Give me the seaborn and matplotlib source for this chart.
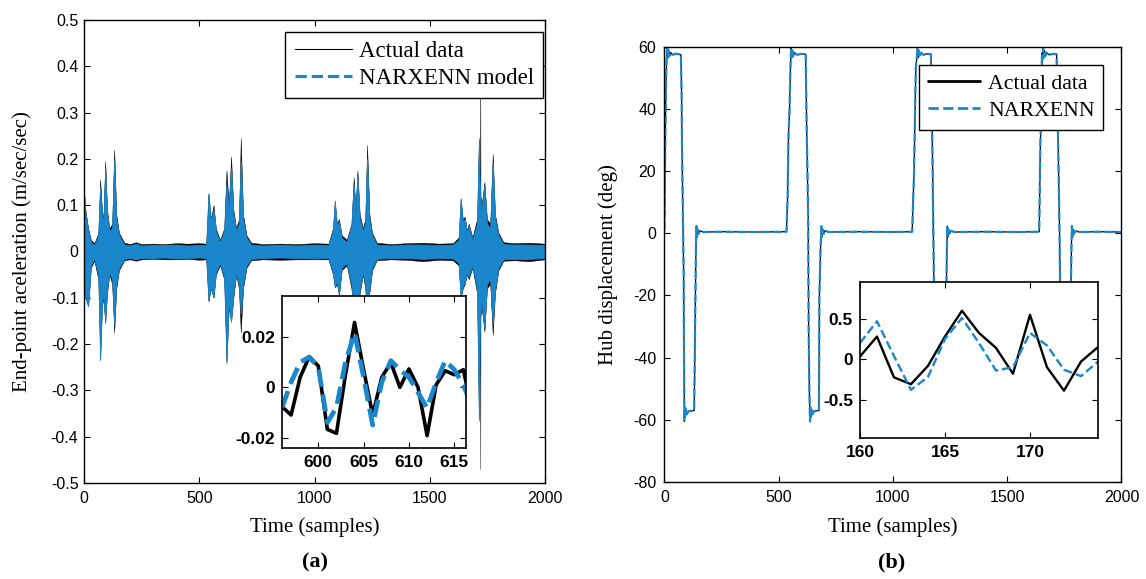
import matplotlib
matplotlib.use('Agg')
import matplotlib.pyplot as plt
import seaborn as sns
import pandas as pd
from matplotlib.ticker import FormatStrFormatter

BLUE = '#1a87cc'

# (a) end-point acceleration: band (knot time, upper / lower extent)
acc_t = [0, 6, 18, 30, 45, 62, 70, 78, 84, 92, 100, 110, 122, 131, 140, 152, 175,
         200, 225, 250, 300, 350, 400, 450, 500, 530,
         540, 550, 562, 572, 590, 608, 618, 628, 638, 648, 660, 672, 680, 690, 705, 725,
         775, 850, 925, 1000, 1060,
         1080, 1088, 1097, 1106, 1118, 1140, 1160, 1170, 1178, 1186, 1196, 1210, 1220, 1228,
         1238, 1250, 1270,
         1330, 1400, 1470, 1540, 1600, 1625,
         1634, 1643, 1652, 1661, 1669, 1685, 1705, 1713, 1718, 1719, 1720, 1725, 1737, 1748,
         1762, 1773, 1783, 1798, 1820,
         1870, 1930, 2000]
acc_hi = [0.130, 0.090, 0.050, 0.025, 0.018, 0.040, 0.155, 0.090, 0.070, 0.195, 0.090, 0.050, 0.060, 0.220, 0.080, 0.040, 0.019,
          0.016, 0.020, 0.016, 0.017, 0.016, 0.018, 0.017, 0.018, 0.017,
          0.125, 0.070, 0.100, 0.050, 0.025, 0.050, 0.175, 0.100, 0.205, 0.090, 0.050, 0.070, 0.245, 0.080, 0.035, 0.019,
          0.016, 0.017, 0.016, 0.018, 0.017,
          0.050, 0.110, 0.060, 0.070, 0.035, 0.025, 0.060, 0.160, 0.090, 0.175, 0.080, 0.050, 0.070, 0.230,
          0.080, 0.040, 0.019,
          0.016, 0.018, 0.019, 0.017, 0.018, 0.030,
          0.115, 0.070, 0.075, 0.045, 0.060, 0.030, 0.070, 0.245, 0.130, 0.400, 0.120, 0.100, 0.150, 0.070,
          0.060, 0.210, 0.080, 0.040, 0.020,
          0.018, 0.019, 0.017]
acc_lo = [-0.060, -0.100, -0.118, -0.035, -0.020, -0.060, -0.235, -0.120, -0.100, -0.155, -0.090, -0.050, -0.070, -0.175, -0.080, -0.040, -0.019,
          -0.017, -0.020, -0.017, -0.016, -0.017, -0.017, -0.016, -0.018, -0.017,
          -0.108, -0.080, -0.100, -0.050, -0.030, -0.060, -0.242, -0.120, -0.152, -0.100, -0.050, -0.080, -0.175, -0.080, -0.035, -0.019,
          -0.017, -0.018, -0.017, -0.017, -0.017,
          -0.050, -0.078, -0.070, -0.095, -0.040, -0.030, -0.080, -0.140, -0.100, -0.150, -0.090, -0.050, -0.080, -0.160,
          -0.090, -0.040, -0.019,
          -0.017, -0.018, -0.021, -0.018, -0.019, -0.030,
          -0.100, -0.080, -0.070, -0.050, -0.060, -0.035, -0.090, -0.360, -0.150, -0.470, -0.140, -0.120, -0.173, -0.080,
          -0.070, -0.180, -0.090, -0.040, -0.020,
          -0.019, -0.021, -0.017]
nn_hi = [0.125, 0.085, 0.045, 0.020, 0.014, 0.035, 0.140, 0.080, 0.060, 0.180, 0.080, 0.045, 0.050, 0.195, 0.070, 0.035, 0.015,
         0.013, 0.017, 0.013, 0.014, 0.014, 0.015, 0.013, 0.014, 0.014,
         0.125, 0.065, 0.090, 0.045, 0.020, 0.045, 0.145, 0.090, 0.180, 0.080, 0.045, 0.060, 0.195, 0.070, 0.030, 0.015,
         0.013, 0.014, 0.013, 0.015, 0.014,
         0.045, 0.108, 0.055, 0.065, 0.030, 0.020, 0.055, 0.145, 0.080, 0.165, 0.070, 0.045, 0.060, 0.200,
         0.070, 0.035, 0.015,
         0.013, 0.015, 0.015, 0.014, 0.015, 0.025,
         0.113, 0.065, 0.070, 0.040, 0.055, 0.025, 0.060, 0.235, 0.120, 0.120, 0.110, 0.090, 0.140, 0.060,
         0.050, 0.190, 0.070, 0.035, 0.016,
         0.015, 0.015, 0.014]
nn_lo = [-0.055, -0.095, -0.118, -0.030, -0.015, -0.050, -0.232, -0.110, -0.090, -0.152, -0.080, -0.045, -0.060, -0.155, -0.070, -0.035, -0.016,
         -0.014, -0.017, -0.014, -0.014, -0.013, -0.015, -0.014, -0.013, -0.014,
         -0.105, -0.075, -0.098, -0.045, -0.025, -0.055, -0.235, -0.110, -0.150, -0.090, -0.045, -0.070, -0.133, -0.070, -0.030, -0.016,
         -0.014, -0.013, -0.014, -0.015, -0.014,
         -0.045, -0.076, -0.065, -0.090, -0.035, -0.025, -0.070, -0.130, -0.090, -0.140, -0.080, -0.045, -0.070, -0.140,
         -0.080, -0.035, -0.016,
         -0.014, -0.014, -0.016, -0.014, -0.015, -0.025,
         -0.098, -0.075, -0.065, -0.045, -0.055, -0.030, -0.080, -0.365, -0.140, -0.140, -0.130, -0.110, -0.165, -0.070,
         -0.060, -0.155, -0.080, -0.035, -0.017,
         -0.016, -0.016, -0.014]

# (a) inset, samples 596..617
ins_a_t = list(range(596, 618))
ins_a_act = [-0.0077, -0.011, 0.004, 0.0122, 0.0085, -0.0167, -0.0183, 0.005, 0.0258, 0.007, -0.011,
             0.004, 0.0098, 0.0, 0.0073, 0.0, -0.0192, 0.001, 0.0066, 0.005, 0.007, -0.010]
ins_a_nn = [-0.008, 0.002, 0.010, 0.012, 0.008, -0.014, -0.008, 0.010, 0.0216, 0.004, -0.015,
            0.002, 0.0106, 0.007, 0.004, -0.002, -0.0082, 0.002, 0.0106, 0.007, 0.001, -0.008]

# (b) hub displacement, corner points of the trace
hub_t = [0, 3, 6, 9, 12, 15, 18, 22, 27, 35, 50, 72, 75, 77, 80, 84, 86, 87, 89, 91, 94, 98, 105, 130,
         132, 134, 137, 139, 140, 142, 145, 149, 155, 170, 250, 400, 534,
         539, 543, 547, 551, 554, 557, 560, 564, 570, 580, 600, 618, 622, 629, 631, 634, 637, 639, 641,
         644, 648, 655, 676, 678, 683, 686, 687, 689, 692, 696, 702, 720, 850, 1000, 1084,
         1092, 1095, 1100, 1104, 1107, 1110, 1113, 1117, 1123, 1133, 1150, 1166, 1171, 1175, 1179, 1183,
         1186, 1188, 1190, 1193, 1197, 1204, 1230, 1234, 1237, 1238, 1240, 1243, 1247, 1253, 1270, 1400,
         1550, 1640,
         1645, 1649, 1652, 1654, 1657, 1660, 1663, 1667, 1673, 1683, 1700, 1716, 1724, 1729, 1732, 1736,
         1739, 1741, 1743, 1746, 1750, 1757, 1776, 1779, 1782, 1783, 1785, 1788, 1792, 1798, 1815, 1900, 2000]
hub_act = [1.0, 25, 45, 55, 59.8, 56.5, 58.8, 57.0, 58.2, 57.4, 57.8, 57.4, 45, 27, 10, -13, -45, -60.5, -56, -59, -56.5, -58.2, -57.2, -57.0,
           -45, -30, -10, 0.5, 2.3, -1.2, 1.3, -0.2, 0.8, 0.4, 0.5, 0.4, 0.5,
           11.8, 32, 38.6, 52, 59.6, 56.5, 58.8, 57.0, 58.1, 57.4, 57.7, 57.6, 36, 5, -31, -50, -60.5, -56, -59,
           -56.5, -58.2, -57.2, -57.0, -20, -5, 0.5, 2.3, -1.2, 1.3, -0.2, 0.8, 0.4, 0.5, 0.4, 0.5,
           19, 32, 53.6, 56, 59.8, 56.5, 58.8, 57.0, 58.1, 57.4, 57.7, 57.6, 37.5, 10.7, -15.5, -40,
           -60.5, -56, -59, -56.5, -58.2, -57.2, -57.0, -16, 0.5, 2.3, -1.2, 1.3, -0.2, 0.8, 0.4, 0.5,
           0.4, 0.5,
           29, 37.5, 57.9, 56, 59.8, 56.5, 58.8, 57.0, 58.1, 57.4, 57.7, 57.6, 23.6, 0, -21, -45,
           -60.5, -56, -59, -56.5, -58.2, -57.2, -57.0, -16, 0.5, 2.3, -1.2, 1.3, -0.2, 0.8, 0.4, 0.5, 0.4]
hub_nn = hub_act  # the model sits on the measurement at this scale

# (b) inset, samples 160..174
ins_b_t = list(range(160, 175))
ins_b_act = [0.033, 0.28, -0.225, -0.31, -0.083, 0.28, 0.60, 0.325, 0.14, -0.18, 0.55, -0.10, -0.39, -0.03, 0.15]
ins_b_nn = [0.20, 0.47, 0.04, -0.38, -0.22, 0.25, 0.51, 0.20, -0.14, -0.10, 0.325, 0.17, -0.13, -0.21, -0.03]

sns.set_theme(style='ticks')
plt.rcParams['font.family'] = ['Liberation Sans', 'DejaVu Sans']
plt.rcParams.update({
    'axes.unicode_minus': False,
    'axes.edgecolor': 'black', 'axes.linewidth': 1.0,
    'text.color': 'black', 'axes.labelcolor': 'black',
    'xtick.direction': 'in', 'ytick.direction': 'in',
    'xtick.top': True, 'ytick.right': True,
    'xtick.color': 'black', 'ytick.color': 'black',
    'xtick.labelcolor': 'black', 'ytick.labelcolor': 'black',
    'xtick.major.size': 4, 'ytick.major.size': 4,
    'xtick.major.width': 0.8, 'ytick.major.width': 0.8,
})
SERIF = ['Liberation Serif', 'DejaVu Serif']

fig = plt.figure(figsize=(11.46, 5.79), dpi=100)
ax_a = fig.add_axes([0.0733, 0.1658, 0.4023, 0.7997])
ax_b = fig.add_axes([0.5798, 0.1675, 0.3988, 0.7518])
in_a = fig.add_axes([0.2461, 0.2263, 0.1606, 0.2625])
in_b = fig.add_axes([0.7504, 0.2430, 0.2077, 0.2705])

# ---- panel (a)
ax_a.fill_between(acc_t, acc_lo, acc_hi, color='black', lw=0.3)
ax_a.fill_between(acc_t, nn_lo, nn_hi, color=BLUE, lw=0.6)
ax_a.plot([], [], color='black', lw=0.8, label='Actual data')
ax_a.plot([], [], color=BLUE, ls='--', lw=2.2, label='NARXENN model')
ax_a.set_xlim(0, 2000)
ax_a.set_ylim(-0.5, 0.5)
ax_a.set_xticks([0, 500, 1000, 1500, 2000])
ax_a.set_yticks([-0.5, -0.4, -0.3, -0.2, -0.1, 0, 0.1, 0.2, 0.3, 0.4, 0.5])
ax_a.yaxis.set_major_formatter(FormatStrFormatter('%g'))
ax_a.tick_params(labelsize=11.5)
ax_a.tick_params(axis='y', pad=4)
ax_a.tick_params(axis='x', pad=6)
ax_a.set_xlabel('Time (samples)', fontsize=15, family=SERIF)
ax_a.set_ylabel('End-point aceleration (m/sec/sec)', fontsize=15, family=SERIF)
ax_a.xaxis.set_label_coords(0.5, -0.075)
ax_a.yaxis.set_label_coords(-0.112, 0.5)
leg = ax_a.legend(loc='upper right', bbox_to_anchor=(0.9957, 0.974), borderaxespad=0,
                  fancybox=False, framealpha=1, edgecolor='black',
                  prop={'family': SERIF, 'size': 16.5}, handlelength=2.5, handletextpad=0.3,
                  labelspacing=0.25, borderpad=0.4)
leg.get_frame().set_linewidth(1.0)

df_a = pd.DataFrame({'t': ins_a_t, 'act': ins_a_act, 'nn': ins_a_nn})
sns.lineplot(data=df_a, x='t', y='act', ax=in_a, color='black', lw=2.6, estimator=None)
sns.lineplot(data=df_a, x='t', y='nn', ax=in_a, color=BLUE, lw=3.4, ls='--', estimator=None)
in_a.set_xlim(596, 616.3)
in_a.set_ylim(-0.0241, 0.0363)
in_a.set_xticks([600, 605, 610, 615])
in_a.set_yticks([-0.02, 0, 0.02])
in_a.yaxis.set_major_formatter(FormatStrFormatter('%g'))

# ---- panel (b)
df_b = pd.DataFrame({'t': hub_t, 'act': hub_act, 'nn': hub_nn})
sns.lineplot(data=df_b, x='t', y='act', ax=ax_b, color='black', lw=0.9, estimator=None)
sns.lineplot(data=df_b, x='t', y='nn', ax=ax_b, color=BLUE, lw=1.6, ls='--', estimator=None)
ax_b.plot([], [], color='black', lw=2.0, label='Actual data')
ax_b.plot([], [], color=BLUE, ls='--', lw=2.0, label='NARXENN')
ax_b.set_xlim(0, 2000)
ax_b.set_ylim(-80, 60)
ax_b.set_xticks([0, 500, 1000, 1500, 2000])
ax_b.set_yticks([-80, -60, -40, -20, 0, 20, 40, 60])
ax_b.tick_params(labelsize=11.5)
ax_b.tick_params(axis='y', pad=6)
ax_b.tick_params(axis='x', pad=6)
ax_b.set_xlabel('Time (samples)', fontsize=15, family=SERIF)
ax_b.set_ylabel('Hub displacement (deg)', fontsize=15, family=SERIF)
ax_b.xaxis.set_label_coords(0.5, -0.082)
ax_b.yaxis.set_label_coords(-0.101, 0.5)
handles, labels = ax_b.get_legend_handles_labels()
leg = ax_b.legend(handles[-2:], labels[-2:], loc='upper right', bbox_to_anchor=(0.9606, 0.958),
                  borderaxespad=0, fancybox=False, framealpha=1, edgecolor='black',
                  prop={'family': SERIF, 'size': 15.7}, handlelength=2.4, handletextpad=0.35,
                  labelspacing=0.3, borderpad=0.4)
leg.get_frame().set_linewidth(1.0)

df_bi = pd.DataFrame({'t': ins_b_t, 'act': ins_b_act, 'nn': ins_b_nn})
sns.lineplot(data=df_bi, x='t', y='act', ax=in_b, color='black', lw=1.7, estimator=None)
sns.lineplot(data=df_bi, x='t', y='nn', ax=in_b, color=BLUE, lw=1.7, ls='--', estimator=None)
in_b.set_xlim(160, 174)
in_b.set_ylim(-0.98, 0.96)
in_b.set_xticks([160, 165, 170])
in_b.set_yticks([-0.5, 0, 0.5])
in_b.yaxis.set_major_formatter(FormatStrFormatter('%g'))

for ax in (in_a, in_b):
    ax.set_xlabel('')
    ax.set_ylabel('')
    ax.set_facecolor('white')
    ax.tick_params(labelsize=12.5, pad=5)
    for lab in ax.get_xticklabels() + ax.get_yticklabels():
        lab.set_fontweight('bold')
    for s in ax.spines.values():
        s.set_linewidth(1.2)

fig.text(0.2749, 0.029, '(a)', fontsize=16, fontweight='bold', family=SERIF, ha='center', va='center')
fig.text(0.7784, 0.029, '(b)', fontsize=16, fontweight='bold', family=SERIF, ha='center', va='center')

fig.savefig('out.png', dpi=100)
